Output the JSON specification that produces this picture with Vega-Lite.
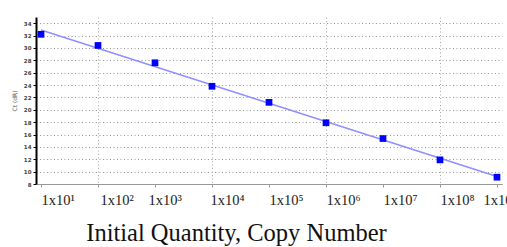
{
  "$schema": "https://vega.github.io/schema/vega-lite/v6.json",
  "width": 466,
  "height": 167,
  "autosize": {"type": "none"},
  "padding": {"left": 36, "top": 17, "right": 5, "bottom": 63},
  "background": "white",
  "config": {"view": {"stroke": null}},
  "datasets": {
    "points": [
      {"quantity": 10, "ct": 32.2},
      {"quantity": 100, "ct": 30.4},
      {"quantity": 1000, "ct": 27.6},
      {"quantity": 10000, "ct": 23.8},
      {"quantity": 100000, "ct": 21.2},
      {"quantity": 1000000, "ct": 17.9},
      {"quantity": 10000000, "ct": 15.35},
      {"quantity": 100000000, "ct": 11.9},
      {"quantity": 1000000000, "ct": 9.1}
    ],
    "fit": [
      {"quantity": 10, "ct": 32.9},
      {"quantity": 1000000000, "ct": 9.2}
    ]
  },
  "encoding": {
    "x": {
      "field": "quantity",
      "type": "quantitative",
      "scale": {"type": "log", "domain": [8.17, 1224000000], "nice": false},
      "axis": {
        "values": [10, 100, 1000, 10000, 100000, 1000000, 10000000, 100000000, 1000000000],
        "labelExpr": "'1x10' + ['⁰','¹','²','³','⁴','⁵','⁶','⁷','⁸','⁹'][round(log(datum.value)/LN10)]",
        "labelFont": "Liberation Serif, Times New Roman, serif",
        "labelFontSize": 14.5,
        "labelColor": "#222",
        "labelAlign": "left",
        "labelDx": -3,
        "labelOffset": {
          "condition": [
            {"test": "datum.value == 100", "value": 2},
            {"test": "datum.value == 1000", "value": -7},
            {"test": "datum.value == 10000", "value": -2},
            {"test": "datum.value == 1000000000", "value": -14}
          ],
          "value": 0
        },
        "labelPadding": 6,
        "labelOverlap": false,
        "labelFlush": false,
        "labelBound": false,
        "domainColor": "#999",
        "domainWidth": 1,
        "tickSize": 3,
        "tickColor": "#999",
        "grid": true,
        "gridDash": [1, 2.5],
        "gridColor": "#aaa",
        "gridOpacity": {"condition": {"test": "indexof([100, 10000, 1000000, 100000000], datum.value) >= 0", "value": 1}, "value": 0},
        "title": "Initial Quantity, Copy Number",
        "titleFont": "Liberation Serif, Times New Roman, serif",
        "titleFontSize": 24.5,
        "titleFontWeight": "normal",
        "titleColor": "#111",
        "titleX": 200,
        "titleY": 56,
        "titleBaseline": "alphabetic",
        "titleAnchor": null
      }
    },
    "y": {
      "field": "ct",
      "type": "quantitative",
      "scale": {"domain": [8, 35], "nice": false, "zero": false},
      "axis": {
        "values": [8, 10, 12, 14, 16, 18, 20, 22, 24, 26, 28, 30, 32, 34],
        "labelFont": "DejaVu Sans",
        "labelFontSize": 5.5,
        "labelFontWeight": "bold",
        "labelColor": "#444",
        "labelPadding": 2,
        "labelOverlap": false,
        "labelBound": false,
        "domainColor": "#000",
        "domainWidth": 2,
        "tickColor": "#000",
        "tickSize": 3,
        "grid": true,
        "gridDash": [1, 2.5],
        "gridColor": "#999",
        "title": "Ct (dR)",
        "titleFont": "DejaVu Sans",
        "titleFontSize": 6,
        "titleFontWeight": "normal",
        "titleColor": "#555",
        "titlePadding": 6
      }
    }
  },
  "layer": [
    {
      "data": {"name": "fit"},
      "mark": {"type": "line", "color": "#8f8fff", "strokeWidth": 1.5}
    },
    {
      "data": {"name": "points"},
      "mark": {"type": "point", "shape": "square", "filled": true, "color": "#0000ff", "size": 45, "opacity": 1}
    }
  ]
}
